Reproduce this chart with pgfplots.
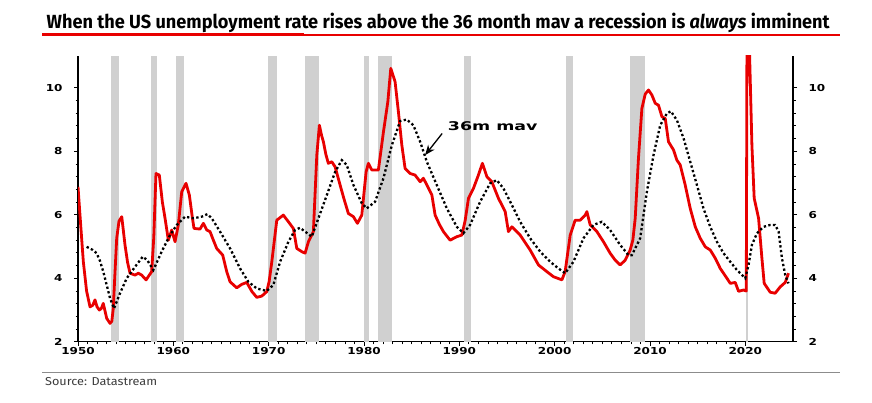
\documentclass[border=0pt]{standalone}
\usepackage{graphicx}
\usepackage{fontspec}
\usepackage{pgfplots}
\pgfplotsset{compat=1.18}
\usetikzlibrary{arrows.meta}
\setmainfont{Liberation Sans}
\newfontfamily\titlefont{Fira Sans}
\newfontfamily\tickfont{DejaVu Sans}
\definecolor{serred}{RGB}{232,0,0}
\definecolor{recgray}{RGB}{208,208,208}
\definecolor{srcgray}{RGB}{60,60,60}

\pgfplotstableread{
yr val
1950.00 6.88
1950.30 5.60
1950.56 4.52
1950.90 3.60
1951.26 3.10
1951.55 3.15
1951.78 3.32
1952.00 3.10
1952.24 3.00
1952.45 3.05
1952.65 3.21
1953.01 2.74
1953.36 2.58
1953.55 2.65
1953.70 3.05
1953.85 4.00
1954.06 5.26
1954.30 5.80
1954.59 5.94
1954.93 5.05
1955.20 4.50
1955.46 4.16
1955.98 4.10
1956.33 4.16
1956.68 4.10
1957.14 3.95
1957.73 4.21
1957.95 5.30
1958.18 7.30
1958.53 7.25
1958.85 6.40
1959.13 5.89
1959.48 5.20
1959.83 5.52
1960.18 5.15
1960.52 5.68
1960.88 6.72
1961.33 6.99
1961.68 6.62
1962.00 5.90
1962.17 5.57
1962.80 5.55
1963.15 5.73
1963.50 5.52
1963.85 5.47
1964.20 5.20
1964.55 4.94
1965.18 4.73
1965.60 4.21
1965.95 3.89
1966.65 3.70
1967.18 3.81
1967.70 3.87
1968.25 3.58
1968.75 3.40
1969.28 3.44
1969.80 3.58
1970.05 3.90
1970.33 4.52
1970.85 5.83
1971.54 5.99
1972.07 5.78
1972.59 5.57
1972.95 4.94
1973.47 4.84
1973.82 4.79
1974.17 5.15
1974.69 5.47
1975.05 7.88
1975.32 8.82
1975.55 8.50
1975.74 8.30
1976.00 7.90
1976.26 7.62
1976.62 7.67
1976.97 7.51
1977.49 6.94
1977.90 6.50
1978.36 6.04
1978.89 5.94
1979.31 5.73
1979.77 5.99
1980.22 7.35
1980.46 7.62
1980.82 7.41
1981.51 7.41
1982.04 8.61
1982.50 9.56
1982.81 10.61
1983.26 10.19
1983.61 9.24
1983.97 8.19
1984.31 7.46
1984.84 7.30
1985.36 7.25
1985.89 7.04
1986.23 7.15
1986.59 6.94
1987.12 6.62
1987.46 5.99
1987.90 5.70
1988.33 5.47
1989.03 5.20
1989.74 5.31
1990.26 5.36
1990.60 5.80
1990.96 6.52
1991.48 6.83
1992.00 7.25
1992.42 7.62
1992.89 7.20
1993.41 7.04
1994.10 6.52
1994.81 6.10
1995.15 5.47
1995.51 5.62
1996.38 5.36
1997.43 4.89
1998.30 4.42
1999.18 4.21
1999.87 4.05
2000.76 3.95
2001.10 4.21
2001.63 5.36
2002.15 5.83
2002.68 5.83
2003.20 5.99
2003.38 6.10
2003.73 5.68
2004.43 5.47
2005.12 5.15
2005.82 4.79
2006.35 4.57
2006.87 4.42
2007.40 4.57
2007.92 4.89
2008.20 5.20
2008.45 5.89
2008.79 7.78
2009.15 9.35
2009.50 9.80
2009.84 9.93
2010.20 9.77
2010.55 9.51
2010.89 9.45
2011.25 9.09
2011.60 9.03
2011.94 8.30
2012.47 8.04
2012.82 7.72
2013.17 7.57
2013.69 6.94
2014.22 6.20
2014.75 5.62
2015.27 5.26
2015.80 4.99
2016.32 4.89
2016.85 4.63
2017.37 4.31
2018.07 4.00
2018.42 3.84
2018.94 3.87
2019.29 3.59
2019.81 3.63
2020.10 3.60
2020.20 14.70
2020.35 13.20
2020.45 11.00
2020.69 8.19
2020.93 6.52
2021.39 5.89
2021.74 4.63
2021.98 3.84
2022.61 3.56
2023.13 3.53
2023.66 3.73
2024.19 3.87
2024.53 4.16
}\unrate

\pgfplotstableread{
yr val
1950.91 4.99
1951.50 4.90
1951.96 4.79
1952.30 4.55
1952.65 4.21
1953.00 3.80
1953.36 3.37
1953.78 3.05
1954.41 3.53
1955.11 4.00
1955.98 4.36
1956.79 4.68
1957.27 4.57
1957.90 4.26
1958.78 4.84
1959.65 5.36
1960.36 5.68
1961.23 5.94
1962.10 5.89
1962.98 5.94
1963.57 6.02
1964.03 5.89
1964.90 5.47
1965.95 4.94
1967.00 4.31
1967.87 3.89
1968.75 3.68
1969.80 3.60
1970.49 3.79
1971.20 4.52
1972.07 5.15
1972.77 5.52
1973.29 5.59
1973.82 5.47
1974.52 5.31
1975.22 5.89
1976.10 6.62
1976.97 7.35
1977.67 7.72
1978.19 7.57
1978.89 6.94
1979.77 6.36
1980.29 6.20
1981.16 6.41
1982.04 7.15
1982.92 8.19
1983.79 8.95
1984.49 9.00
1985.18 8.82
1985.89 8.30
1986.59 7.67
1987.63 6.94
1988.69 6.20
1989.74 5.62
1990.43 5.42
1991.13 5.68
1992.18 6.41
1993.23 6.99
1993.93 7.09
1994.63 6.83
1995.51 6.31
1996.38 5.78
1997.43 5.26
1998.48 4.84
1999.53 4.52
2000.40 4.31
2001.10 4.16
2001.97 4.52
2003.02 5.26
2004.07 5.68
2004.95 5.78
2005.82 5.52
2006.87 5.05
2007.74 4.73
2008.10 4.73
2008.97 5.26
2009.67 6.72
2010.37 7.88
2011.07 8.82
2011.77 9.19
2012.19 9.26
2012.82 8.98
2013.52 8.41
2014.22 7.67
2014.92 6.94
2015.61 6.20
2016.32 5.62
2017.02 5.15
2017.71 4.79
2018.42 4.52
2019.12 4.26
2019.99 4.00
2020.34 4.42
2020.69 5.05
2021.22 5.42
2021.91 5.62
2022.61 5.68
2023.13 5.68
2023.49 5.47
2023.84 4.63
2024.19 4.10
2024.53 3.84
}\mav

\begin{document}
\begin{tikzpicture}
\useasboundingbox (0,0) rectangle (872pt,403pt);
% title
\node[anchor=base west, inner sep=0pt] at (46.5pt,374.7pt)
  {\resizebox{783pt}{\height}{\titlefont\bfseries\fontsize{19}{19}\selectfont When the US unemployment rate rises above the 36 month mav a recession is \textit{always} imminent}};
\fill[serred] (42pt,367pt) rectangle (840pt,368.7pt);
\fill[serred] (42pt,367pt) rectangle (304pt,370.3pt);
% source
\draw[black!45, line width=1pt] (42pt,30pt) -- (840pt,30pt);
\node[anchor=base west, inner sep=0pt, text=srcgray] at (45pt,17pt)
  {\resizebox{112pt}{\height}{\titlefont\fontsize{11.5}{11.5}\selectfont Source: Datastream}};

\begin{axis}[
  at={(78pt,61.2pt)}, anchor=south west,
  scale only axis, width=715pt, height=285.8pt,
  xmin=1950, xmax=2025, ymin=2, ymax=11,
  axis x line*=bottom, axis y line*=left,
  axis line style={line width=1.1pt, -},
  xtick={1950,1960,...,2020}, minor x tick num=9,
  ytick={2,4,...,10}, minor y tick num=4,
  tick align=outside, major tick length=4pt, minor tick length=2.5pt,
  tick style={black, line width=0.8pt},
  /pgf/number format/assume math mode=true,
  xticklabel={\scalebox{1.25}[1]{\pgfmathprintnumber[int detect,1000 sep={}]{\tick}}},
  yticklabel={\scalebox{1.25}[1]{\pgfmathprintnumber[int detect]{\tick}}},
  tick label style={font=\tickfont\bfseries\fontsize{9.6}{9.6}\selectfont},
  x tick label style={yshift=2pt},
  y tick label style={xshift=-8pt},
]
% recessions
\addplot[fill=recgray, draw=none] coordinates {(1953.50,2) (1953.50,11) (1954.33,11) (1954.33,2)} -- cycle;
\addplot[fill=recgray, draw=none] coordinates {(1957.67,2) (1957.67,11) (1958.33,11) (1958.33,2)} -- cycle;
\addplot[fill=recgray, draw=none] coordinates {(1960.33,2) (1960.33,11) (1961.10,11) (1961.10,2)} -- cycle;
\addplot[fill=recgray, draw=none] coordinates {(1969.92,2) (1969.92,11) (1970.85,11) (1970.85,2)} -- cycle;
\addplot[fill=recgray, draw=none] coordinates {(1973.85,2) (1973.85,11) (1975.25,11) (1975.25,2)} -- cycle;
\addplot[fill=recgray, draw=none] coordinates {(1980.00,2) (1980.00,11) (1980.55,11) (1980.55,2)} -- cycle;
\addplot[fill=recgray, draw=none] coordinates {(1981.45,2) (1981.45,11) (1982.92,11) (1982.92,2)} -- cycle;
\addplot[fill=recgray, draw=none] coordinates {(1990.50,2) (1990.50,11) (1991.20,11) (1991.20,2)} -- cycle;
\addplot[fill=recgray, draw=none] coordinates {(2001.17,2) (2001.17,11) (2001.90,11) (2001.90,2)} -- cycle;
\addplot[fill=recgray, draw=none] coordinates {(2007.92,2) (2007.92,11) (2009.50,11) (2009.50,2)} -- cycle;
\addplot[fill=recgray, draw=none] coordinates {(2020.12,2) (2020.12,11) (2020.28,11) (2020.28,2)} -- cycle;
% series
\addplot[serred, line width=2.8pt, line join=round, mark=none] table[x=yr, y=val] {\unrate};
\addplot[black, line width=2.3pt, dash pattern=on 2.3pt off 2.4pt, mark=none] table[x=yr, y=val] {\mav};
% annotation
\node[inner sep=0pt] at (axis cs:1993.5,8.79)
  {\scalebox{1.45}[1]{\tickfont\bfseries\fontsize{12}{12}\selectfont 36m mav}};
\draw[black, line width=1.3pt, -{Stealth[length=10pt,width=8pt]}] (axis cs:1988.2,8.56) -- (axis cs:1986.41,7.88);
\end{axis}

\begin{axis}[
  at={(78pt,61.2pt)}, anchor=south west,
  scale only axis, width=715pt, height=285.8pt,
  xmin=1950, xmax=2025, ymin=2, ymax=11,
  axis x line=none, axis y line*=right,
  axis line style={line width=1.1pt, -},
  ytick={2,4,...,10}, minor y tick num=4,
  tick align=outside, major tick length=4pt, minor tick length=2.5pt,
  tick style={black, line width=0.8pt},
  /pgf/number format/assume math mode=true,
  yticklabel={\scalebox{1.25}[1]{\pgfmathprintnumber[int detect]{\tick}}},
  tick label style={font=\tickfont\bfseries\fontsize{9.6}{9.6}\selectfont},
  y tick label style={xshift=8pt},
]
\end{axis}
\end{tikzpicture}
\end{document}
